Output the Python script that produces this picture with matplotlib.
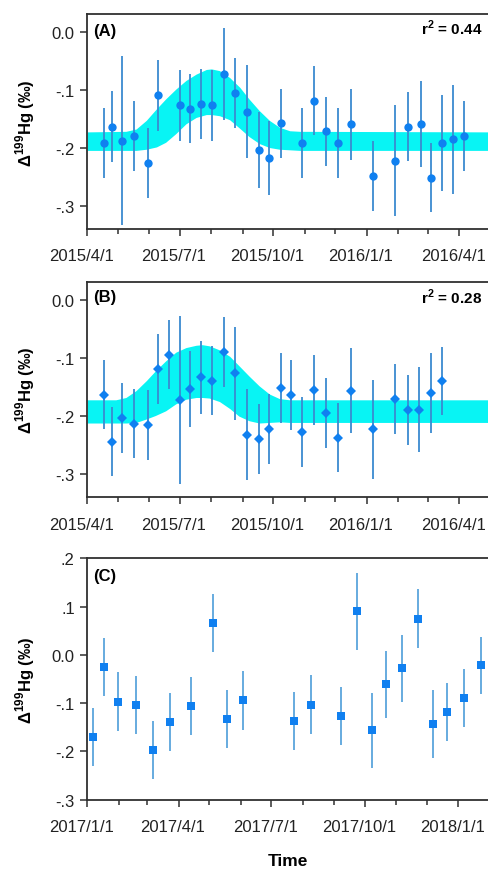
import matplotlib
matplotlib.use("Agg")
import matplotlib.pyplot as plt
import matplotlib.dates as mdates
import matplotlib.ticker as mticker
import matplotlib.transforms as mtransforms
import pandas as pd

plt.rcParams['font.family'] = ['Liberation Sans', 'DejaVu Sans']
plt.rcParams['mathtext.fontset'] = 'custom'
plt.rcParams['mathtext.rm'] = 'Liberation Sans'
plt.rcParams['mathtext.bf'] = 'Liberation Sans:bold'

# ---- panel A (circles) ----
a_dates = ["2015-04-17", "2015-04-25", "2015-05-05", "2015-05-17", "2015-05-31",
           "2015-06-10", "2015-07-01", "2015-07-11", "2015-07-22", "2015-08-02",
           "2015-08-13", "2015-08-24", "2015-09-05", "2015-09-17", "2015-09-27",
           "2015-10-08", "2015-10-29", "2015-11-10", "2015-11-22", "2015-12-04",
           "2015-12-16", "2016-01-07", "2016-01-29", "2016-02-10", "2016-02-23",
           "2016-03-04", "2016-03-15", "2016-03-26", "2016-04-05"]
a_vals = [-0.191, -0.163, -0.187, -0.179, -0.226, -0.109, -0.126, -0.132, -0.124, -0.126,
          -0.072, -0.105, -0.137, -0.203, -0.217, -0.157, -0.191, -0.118, -0.171, -0.191,
          -0.159, -0.248, -0.222, -0.163, -0.158, -0.251, -0.192, -0.185, -0.179]
a_errs = [0.061, 0.061, 0.146, 0.060, 0.061, 0.062, 0.061, 0.060, 0.061, 0.061,
          0.080, 0.061, 0.081, 0.066, 0.064, 0.060, 0.060, 0.060, 0.060, 0.060,
          0.061, 0.061, 0.096, 0.060, 0.074, 0.060, 0.083, 0.095, 0.060]

band_a_dates = ["2015-04-01", "2015-05-09", "2015-05-19", "2015-05-29", "2015-06-08",
                "2015-06-17", "2015-06-27", "2015-07-07", "2015-07-17", "2015-07-27",
                "2015-08-01", "2015-08-09", "2015-08-19", "2015-08-29", "2015-09-07",
                "2015-09-17", "2015-09-27", "2015-10-07", "2015-10-17", "2015-10-27",
                "2016-05-05"]
band_a_hi = [-0.172, -0.171, -0.167, -0.152, -0.132, -0.115, -0.098, -0.083, -0.072, -0.064,
             -0.063, -0.066, -0.078, -0.095, -0.115, -0.135, -0.152, -0.164, -0.170, -0.171,
             -0.172]
band_a_lo = [-0.204, -0.204, -0.204, -0.202, -0.198, -0.190, -0.175, -0.158, -0.147, -0.142,
             -0.142, -0.144, -0.151, -0.166, -0.180, -0.192, -0.199, -0.202, -0.203, -0.204,
             -0.204]

# ---- panel B (diamonds) ----
b_dates = ["2015-04-17", "2015-04-25", "2015-05-05", "2015-05-17", "2015-05-31",
           "2015-06-10", "2015-06-20", "2015-07-01", "2015-07-11", "2015-07-22",
           "2015-08-02", "2015-08-13", "2015-08-24", "2015-09-05", "2015-09-17",
           "2015-09-27", "2015-10-08", "2015-10-18", "2015-10-29", "2015-11-10",
           "2015-11-22", "2015-12-04", "2015-12-16", "2016-01-07", "2016-01-29",
           "2016-02-10", "2016-02-21", "2016-03-04", "2016-03-15"]
b_vals = [-0.163, -0.244, -0.203, -0.213, -0.215, -0.119, -0.094, -0.172, -0.153, -0.133,
          -0.139, -0.090, -0.126, -0.232, -0.239, -0.222, -0.152, -0.164, -0.228, -0.155,
          -0.195, -0.237, -0.156, -0.223, -0.171, -0.190, -0.189, -0.160, -0.140]
b_errs = [0.060, 0.060, 0.060, 0.060, 0.060, 0.060, 0.060, 0.145, 0.065, 0.063,
          0.060, 0.060, 0.080, 0.078, 0.060, 0.060, 0.060, 0.060, 0.060, 0.060,
          0.060, 0.060, 0.074, 0.085, 0.060, 0.060, 0.073, 0.069, 0.059]

band_b_dates = ["2015-04-01", "2015-04-29", "2015-05-09", "2015-05-19", "2015-05-29",
                "2015-06-07", "2015-06-17", "2015-06-27", "2015-07-07", "2015-07-17",
                "2015-07-23", "2015-07-30", "2015-08-09", "2015-08-19", "2015-08-28",
                "2015-09-07", "2015-09-17", "2015-09-27", "2015-10-07", "2015-10-17",
                "2016-05-05"]
band_b_hi = [-0.172, -0.172, -0.168, -0.156, -0.139, -0.122, -0.105, -0.090, -0.082, -0.078,
             -0.077, -0.079, -0.086, -0.097, -0.113, -0.131, -0.148, -0.162, -0.170, -0.172,
             -0.172]
band_b_lo = [-0.212, -0.212, -0.212, -0.211, -0.205, -0.199, -0.191, -0.179, -0.171, -0.168,
             -0.168, -0.169, -0.175, -0.187, -0.200, -0.208, -0.212, -0.211, -0.210, -0.211,
             -0.211]

# ---- panel C (squares) ----
c_dates = ["2017-01-07", "2017-01-17", "2017-01-31", "2017-02-18", "2017-03-07",
           "2017-03-23", "2017-04-13", "2017-05-05", "2017-05-18", "2017-06-03",
           "2017-07-23", "2017-08-09", "2017-09-07", "2017-09-23", "2017-10-08",
           "2017-10-22", "2017-11-06", "2017-11-22", "2017-12-07", "2017-12-21",
           "2018-01-06", "2018-01-23"]
c_vals = [-0.171, -0.025, -0.097, -0.104, -0.197, -0.139, -0.105, 0.066, -0.133, -0.094,
          -0.137, -0.103, -0.126, 0.090, -0.156, -0.061, -0.028, 0.075, -0.143, -0.119,
          -0.090, -0.022]
c_errs = [0.060, 0.060, 0.061, 0.060, 0.060, 0.060, 0.060, 0.060, 0.060, 0.061,
          0.060, 0.061, 0.060, 0.079, 0.078, 0.070, 0.070, 0.061, 0.071, 0.060,
          0.060, 0.060]

W, H = 488, 870
fig = plt.figure(figsize=(W / 100, H / 100), dpi=100)

marker_col = "#1080f0"
err_col = "#3a8ad0"
band_col = "#08f4f4"
spine_col = "#303030"


def make_axes(top, bottom):
    return fig.add_axes([87.3 / W, 1 - bottom / H, (491 - 87.3) / W, (bottom - top) / H])


def date_fmt(x, pos=None):
    d = mdates.num2date(x)
    return f"{d.year}/{d.month}/{d.day}"


def y_fmt(v, pos=None):
    if abs(v) < 1e-9:
        return "0.0"
    return f"{v:.1f}".replace("0.", ".")


def style(ax, xstart, xend, ylim, yticks):
    ax.set_xlim(pd.Timestamp(xstart), pd.Timestamp(xend))
    ax.set_ylim(*ylim)
    ax.set_yticks(yticks)
    ax.yaxis.set_major_formatter(mticker.FuncFormatter(y_fmt))
    ax.xaxis.set_major_locator(mdates.MonthLocator(bymonth=[1, 4, 7, 10]))
    ax.xaxis.set_minor_locator(mdates.MonthLocator())
    ax.xaxis.set_major_formatter(mticker.FuncFormatter(date_fmt))
    ax.tick_params(which='major', direction='out', length=5, width=1.1,
                   labelsize=12, color=spine_col, labelcolor='#222222', pad=4)
    ax.tick_params(which='minor', direction='out', length=3.5, width=1.1, color=spine_col)
    ax.tick_params(axis='x', which='major', pad=9)
    for s in ax.spines.values():
        s.set_color(spine_col)
        s.set_linewidth(1.3)


def plot_points(ax, dates, vals, errs, marker, ms, ecol):
    ax.errorbar(pd.to_datetime(dates), vals, yerr=errs, fmt='none', ecolor=ecol,
                elinewidth=1.3, capsize=0, zorder=3)
    ax.plot(pd.to_datetime(dates), vals, linestyle='none', marker=marker, ms=ms,
            color=marker_col, markeredgewidth=0, zorder=4)


# panel A
ax_a = make_axes(15, 230)
ax_a.fill_between(pd.to_datetime(band_a_dates), band_a_lo, band_a_hi, color=band_col,
                  linewidth=0, zorder=1)
plot_points(ax_a, a_dates, a_vals, a_errs, 'o', 6, err_col)
style(ax_a, "2015-04-01", "2016-05-02", (-0.34, 0.032), [-0.3, -0.2, -0.1, 0.0])
ax_a.text(0.014, 0.925, "(A)", transform=ax_a.transAxes, fontsize=12,
          fontweight='bold', ha='left', va='center')
ax_a.text(0.978, 0.94, r"r$^{\mathbf{2}}$ = 0.44", transform=ax_a.transAxes,
          fontsize=11, fontweight='bold', ha='right', va='center')

# panel B
ax_b = make_axes(283.3, 498.3)
ax_b.fill_between(pd.to_datetime(band_b_dates), band_b_lo, band_b_hi, color=band_col,
                  linewidth=0, zorder=1)
plot_points(ax_b, b_dates, b_vals, b_errs, 'D', 5.5, err_col)
style(ax_b, "2015-04-01", "2016-05-02", (-0.34, 0.0305), [-0.3, -0.2, -0.1, 0.0])
ax_b.text(0.014, 0.935, "(B)", transform=ax_b.transAxes, fontsize=12,
          fontweight='bold', ha='left', va='center')
ax_b.text(0.978, 0.935, r"r$^{\mathbf{2}}$ = 0.28", transform=ax_b.transAxes,
          fontsize=11, fontweight='bold', ha='right', va='center')

# panel C
ax_c = make_axes(559.3, 800.7)
plot_points(ax_c, c_dates, c_vals, c_errs, 's', 5.5, "#5aa5dc")
style(ax_c, "2017-01-01", "2018-02-02", (-0.3, 0.2), [-0.3, -0.2, -0.1, 0.0, 0.1, 0.2])
ax_c.text(0.014, 0.928, "(C)", transform=ax_c.transAxes, fontsize=12,
          fontweight='bold', ha='left', va='center')

ylab = r"Δ$^{\mathbf{199}}$Hg (‰)"
for yc in [123, 390, 680]:
    fig.text(25 / W, 1 - yc / H, ylab, rotation=90, ha='center', va='center',
             fontsize=12, fontweight='bold')

fig.text(288 / W, 1 - 862 / H, "Time", ha='center', va='center', fontsize=12.5,
         fontweight='bold')

# date labels sit a little left of their ticks in the original
fig.canvas.draw()
shift = mtransforms.ScaledTranslation(-6 / 100, 0, fig.dpi_scale_trans)
for ax in (ax_a, ax_b, ax_c):
    for lab in ax.xaxis.get_majorticklabels():
        lab.set_transform(lab.get_transform() + shift)

fig.savefig("out.png", dpi=100)
